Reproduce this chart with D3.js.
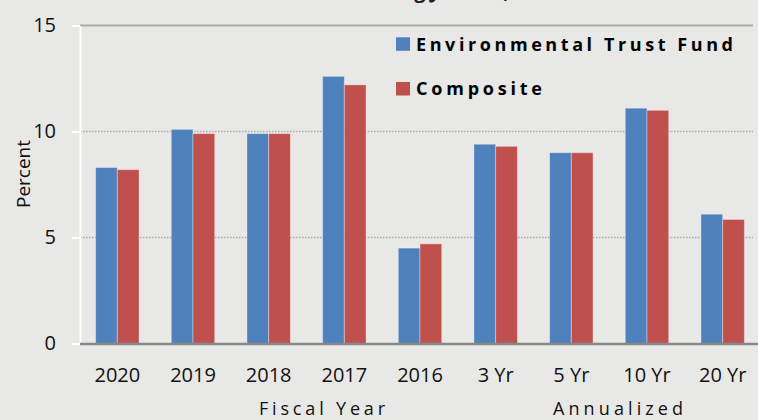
<!DOCTYPE html>
<html>
<head>
<meta charset="utf-8">
<script src="https://cdn.jsdelivr.net/npm/d3@7"></script>
<style>
body { margin: 0; background: #e8e8e6; }
svg { display: block; font-family: 'Open Sans', sans-serif; }
</style>
</head>
<body>
<svg class="chart" width="758" height="420"></svg>
<script>
const categories = ['2020', '2019', '2018', '2017', '2016', '3 Yr', '5 Yr', '10 Yr', '20 Yr'];
const trustFund = [8.3, 10.1, 9.9, 12.6, 4.5, 9.4, 9.0, 11.1, 6.1];
const composite = [8.2, 9.9, 9.9, 12.2, 4.7, 9.3, 9.0, 11.0, 5.85];
const seriesNames = ['Environmental Trust Fund', 'Composite'];
const seriesColors = ['#4f81bd', '#c0504d'];
const yTicks = [0, 5, 10, 15];

const svg = d3.select('svg.chart');

// plot box
const plotLeft = 80, plotRight = 760.5, plotTop = 25.5, plotBottom = 343.5, gridEnd = 753;

const yScale = d3.scaleLinear()
    .domain([0, 15])
    .range([plotBottom, plotTop]);

const xScale = d3.scaleBand()
    .domain(categories)
    .range([plotLeft - 0.5, plotRight])
    .paddingInner(0.426)
    .paddingOuter(0.213);

const xSub = d3.scaleBand()
    .domain(seriesNames)
    .range([0, xScale.bandwidth()]);

// title, mostly cut off at the top edge
svg.append('text')
    .attr('x', 360)
    .attr('y', -2.5)
    .attr('text-anchor', 'middle')
    .attr('font-size', 20)
    .attr('font-weight', 'bold')
    .attr('fill', '#222')
    .text('Returns for Periods Ending June 30, 2020');

// grid lines
svg.append('g')
    .selectAll('line')
    .data(yTicks.filter((t) => t > 0 && t < 15))
    .enter()
    .append('line')
    .attr('x1', plotLeft)
    .attr('x2', gridEnd)
    .attr('y1', (t) => yScale(t))
    .attr('y2', (t) => yScale(t))
    .attr('stroke', '#a8a8a8')
    .attr('stroke-width', 1.3)
    .attr('stroke-dasharray', '1.5 1.5');

// top border line
svg.append('line')
    .attr('x1', plotLeft)
    .attr('x2', gridEnd)
    .attr('y1', yScale(15))
    .attr('y2', yScale(15))
    .attr('stroke', '#ababab')
    .attr('stroke-width', 2);

// bars
const rows = categories.map((c, i) => ({ name: c, values: [trustFund[i], composite[i]] }));

const group = svg.append('g')
    .selectAll('g')
    .data(rows)
    .enter()
    .append('g')
    .attr('transform', (d) => `translate(${xScale(d.name)}, 0)`);

group.selectAll('rect')
    .data((d) => d.values.map((v, j) => ({ series: seriesNames[j], value: v, color: seriesColors[j] })))
    .enter()
    .append('rect')
    .attr('x', (d) => xSub(d.series))
    .attr('y', (d) => yScale(d.value))
    .attr('width', xSub.bandwidth())
    .attr('height', (d) => yScale(0) - yScale(d.value))
    .attr('fill', (d) => d.color)
    .attr('stroke', 'rgba(255,255,255,0.35)')
    .attr('stroke-width', 1);

// y axis
const yAxis = svg.append('g')
    .attr('transform', `translate(${plotLeft}, 0)`)
    .call(d3.axisLeft(yScale)
        .tickValues(yTicks)
        .tickSize(8)
        .tickSizeOuter(0)
        .tickPadding(16));
yAxis.select('.domain').attr('stroke', '#fff').attr('stroke-width', 2);
yAxis.selectAll('.tick line').attr('stroke', '#fff').attr('stroke-width', 2);
yAxis.selectAll('.tick text')
    .attr('font-size', 20)
    .attr('font-family', "'Open Sans', sans-serif")
    .attr('fill', '#111');

// x axis
const xAxis = svg.append('g')
    .attr('transform', `translate(0, ${plotBottom})`)
    .call(d3.axisBottom(xScale)
        .tickSize(0)
        .tickSizeOuter(0)
        .tickPadding(24.5));
xAxis.select('.domain').attr('stroke', '#878787').attr('stroke-width', 2.5);
xAxis.selectAll('.tick text')
    .attr('font-size', 20)
    .attr('font-family', "'Open Sans', sans-serif")
    .attr('fill', '#111');

// axis titles
svg.append('text')
    .attr('transform', 'rotate(-90)')
    .attr('x', -174)
    .attr('y', 30)
    .attr('text-anchor', 'middle')
    .attr('font-size', 19)
    .attr('fill', '#111')
    .text('Percent');

const groupTitles = [
    { text: 'Fiscal Year', x: 322, len: 126 },
    { text: 'Annualized', x: 618, len: 130 }
];
svg.append('g')
    .selectAll('text')
    .data(groupTitles)
    .enter()
    .append('text')
    .attr('x', (d) => d.x)
    .attr('y', 415)
    .attr('text-anchor', 'middle')
    .attr('font-size', 18)
    .attr('fill', '#111')
    .attr('textLength', (d) => d.len)
    .attr('lengthAdjust', 'spacing')
    .text((d) => d.text);

// legend
const legendLen = [317, 126];
const legend = svg.append('g')
    .selectAll('g')
    .data(seriesNames)
    .enter()
    .append('g')
    .attr('transform', (d, i) => `translate(396, ${37.3 + i * 44.7})`);

legend.append('rect')
    .attr('width', 14)
    .attr('height', 13.5)
    .attr('fill', (d, i) => seriesColors[i]);

legend.append('text')
    .attr('x', 20)
    .attr('y', 13.4)
    .attr('font-size', 18)
    .attr('font-weight', 'bold')
    .attr('fill', '#000')
    .attr('textLength', (d, i) => legendLen[i])
    .attr('lengthAdjust', 'spacing')
    .text((d) => d);
</script>
</body>
</html>
